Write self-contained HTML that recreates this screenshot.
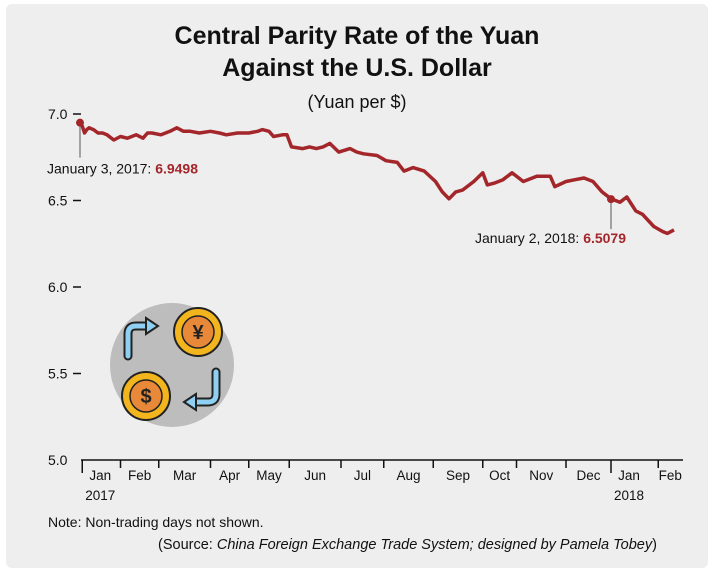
<!DOCTYPE html>
<html><head><meta charset="utf-8"><style>
body{margin:0;background:#fff;font-family:"Liberation Sans",sans-serif;}
#panel{position:absolute;left:6px;top:4px;width:702px;height:564px;background:#eeeeee;border-radius:6px;}
.t{position:absolute;color:#111;}
</style></head><body>
<div id="panel"></div>
<div class="t" style="left:0;width:714px;top:20px;text-align:center;font-size:25px;font-weight:bold;line-height:32px;">Central Parity Rate of the Yuan<br>Against the U.S. Dollar</div>
<div class="t" style="left:0;width:714px;top:92px;text-align:center;font-size:18px;">(Yuan per $)</div>
<svg id="chart" width="714" height="572" style="position:absolute;left:0;top:0"></svg>
<div class="t" style="left:48px;top:514px;font-size:14px;">Note: Non-trading days not shown.</div>
<div class="t" style="left:158px;top:537px;font-size:14.5px;">(Source: <i>China Foreign Exchange Trade System; designed by Pamela Tobey</i>)</div>
<script>
const days=[0,1,2,3,4,6,8,10,12,15,18,21,25,28,30,32,36,40,43,46,49,53,58,62,65,70,75,79,81,84,86,90,92,94,99,102,105,108,111,115,120,123,126,132,136,141,144,148,153,158,161,164,167,170,175,179,181,184,188,192,197,203,209,211,216,220,224,228,232,236,240,243,247,250,255,259,261,264];
const rates=[6.95,6.93,6.89,6.91,6.92,6.91,6.89,6.89,6.88,6.85,6.87,6.86,6.88,6.86,6.89,6.89,6.88,6.90,6.92,6.90,6.90,6.89,6.90,6.89,6.88,6.89,6.89,6.90,6.91,6.90,6.87,6.88,6.88,6.81,6.80,6.81,6.80,6.81,6.83,6.78,6.80,6.78,6.77,6.76,6.73,6.72,6.67,6.69,6.67,6.61,6.55,6.51,6.55,6.56,6.61,6.66,6.59,6.60,6.62,6.66,6.61,6.64,6.64,6.58,6.61,6.62,6.63,6.61,6.55,6.51,6.49,6.52,6.44,6.42,6.35,6.32,6.31,6.33];
const yTicks=[7.0,6.5,6.0,5.5,5.0];
const monthLabels=["Jan","Feb","Mar","Apr","May","Jun","Jul","Aug","Sep","Oct","Nov","Dec","Jan","Feb"];
const monthStart=[1,18,35,58,75,93,116,135,157,179,194,216,236,257];
const annotations=[{day:0,val:6.9498,label:"January 3, 2017: ",vtxt:"6.9498"},{day:236,val:6.5079,label:"January 2, 2018: ",vtxt:"6.5079"}];
const X=d=>80+d*2.25, Y=v=>114+(7-v)*173;
const svg=document.getElementById('chart'),NS="http://www.w3.org/2000/svg";
function mk(tag,attrs,parent){const e=document.createElementNS(NS,tag);for(const k in attrs)e.setAttribute(k,attrs[k]);(parent||svg).appendChild(e);return e;}
const ic=mk('g',{});


mk('circle',{cx:172,cy:365,r:62,fill:'#bdbdbd'},ic);
[[198,332,'¥'],[146,396,'$']].forEach(([cx,cy,s])=>{mk('circle',{cx,cy,r:24,fill:'#f2b51d',stroke:'#222','stroke-width':2},ic);mk('circle',{cx,cy,r:16,fill:'#e8893a',stroke:'#222','stroke-width':1.5},ic);const t=mk('text',{x:cx,y:cy+7,'text-anchor':'middle','font-size':20,'font-weight':'bold',fill:'#222'},ic);t.textContent=s;});
mk('path',{d:'M128 356 V334 Q128 326 136 326 H150',fill:'none',stroke:'#222','stroke-width':9,'stroke-linecap':'round'},ic);
mk('path',{d:'M128 356 V334 Q128 326 136 326 H150',fill:'none',stroke:'#8fd0f2','stroke-width':5,'stroke-linecap':'round'},ic);
mk('path',{d:'M146 318 L158 326 L146 334 Z',fill:'#8fd0f2',stroke:'#222','stroke-width':2},ic);
mk('path',{d:'M216 372 V394 Q216 402 208 402 H192',fill:'none',stroke:'#222','stroke-width':9,'stroke-linecap':'round'},ic);
mk('path',{d:'M216 372 V394 Q216 402 208 402 H192',fill:'none',stroke:'#8fd0f2','stroke-width':5,'stroke-linecap':'round'},ic);
mk('path',{d:'M196 394 L184 402 L196 410 Z',fill:'#8fd0f2',stroke:'#222','stroke-width':2},ic);
yTicks.forEach(v=>{const t=mk('text',{x:48,y:Y(v)+5,'font-size':14,fill:'#111'});t.textContent=v.toFixed(1);

if(v>5)mk('line',{x1:73,x2:81,y1:Y(v),y2:Y(v),stroke:'#111','stroke-width':1.5});});
const ax=mk('line',{x1:81,x2:683,y1:Y(5),y2:Y(5),stroke:'#111','stroke-width':1.5});


monthStart.forEach((d,i)=>{const x=X(d);const big=(i==0||i==12);mk('line',{x1:x,x2:x,y1:Y(5),y2:Y(5)+(big?13:8),stroke:'#111','stroke-width':1.5});
const nx=i<13?(X(monthStart[i+1])+x)/2:x+12;
const t=mk('text',{x:(i==0||i==12)?x+18:nx,y:Y(5)+20,'text-anchor':'middle','font-size':13.5,fill:'#111'});t.textContent=monthLabels[i];

if(big){const y=mk('text',{x:x+18,y:Y(5)+40,'text-anchor':'middle','font-size':13.5,fill:'#111'});y.textContent=i==0?'2017':'2018';}});
const p=mk('path',{d:days.map((d,i)=>(i?'L':'M')+X(d).toFixed(1)+' '+Y(rates[i]).toFixed(1)).join(' '),fill:'none',stroke:'#a3262a','stroke-width':3.5,'stroke-linejoin':'round'});


annotations.forEach((a,i)=>{const x=X(a.day),y=Y(a.val);mk('line',{x1:x,x2:x,y1:y,y2:y+(i?30:35),stroke:'#555','stroke-width':1});
const c=mk('circle',{cx:x,cy:y,r:4,fill:'#a3262a'});
const t=mk('text',{x:i?475:47,y:i?y+44:y+51,'font-size':14,fill:'#111'});t.textContent=a.label;

const s=mk('tspan',{fill:'#a3262a','font-weight':'bold'},t);s.textContent=a.vtxt;});
</script>
</body></html>
